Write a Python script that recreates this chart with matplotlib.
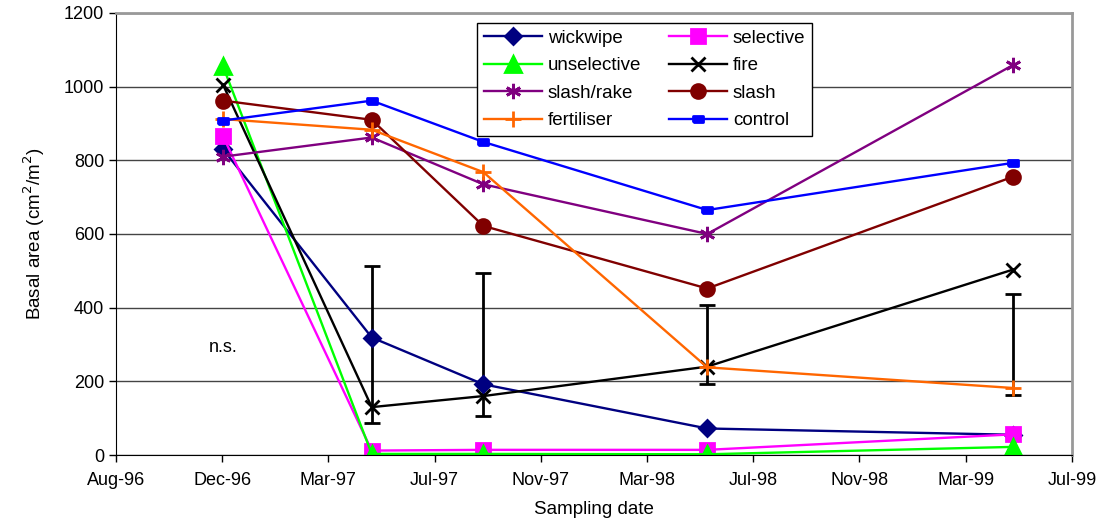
import matplotlib
matplotlib.use("Agg")
import matplotlib.pyplot as plt
import matplotlib.dates as mdates
import numpy as np
import pandas as pd

plt.rcParams["font.family"] = ["Liberation Sans", "DejaVu Sans"]

sample_dates = pd.to_datetime(["1996-12-02", "1997-05-19", "1997-09-22", "1998-06-02", "1999-05-13"])

series_names = ["wickwipe", "selective", "unselective", "fire",
                "slash/rake", "slash", "fertiliser", "control"]
wickwipe = [830, 319, 192, 72, 55]
selective = [865, 12, 14, 14, 56]
unselective = [1055, 3, 3, 2, 22]
fire = [1005, 130, 160, 240, 503]
slash_rake = [810, 862, 735, 600, 1058]
slash = [962, 910, 622, 452, 755]
fertiliser = [912, 883, 768, 238, 182]
control = [908, 962, 850, 665, 793]

# LSD-style bars drawn around a fixed level
err_dates = sample_dates[1:]
err_center = [300, 300, 300, 300]
err_half = [212, 195, 106, 137]

fig, ax = plt.subplots(figsize=(10.96, 5.19), dpi=100)
fig.subplots_adjust(left=0.1058, right=0.978, top=0.975, bottom=0.1233)

rect = [(-1, -0.55), (1, -0.55), (1, 0.55), (-1, 0.55), (-1, -0.55)]
styles = [
    (wickwipe, "#000080", "D", 8),
    (selective, "#FF00FF", "s", 10),
    (unselective, "#00FF00", "^", 11),
    (fire, "#000000", "x", 10),
    (slash_rake, "#800080", (6, 2, 0), 11),
    (slash, "#800000", "o", 10),
    (fertiliser, "#FF6600", "+", 11),
    (control, "#0000FF", rect, 7),
]

handles = []
for name, (vals, col, mk, ms) in zip(series_names, styles):
    h, = ax.plot(sample_dates, vals, color=col, lw=1.7, marker=mk, markersize=ms,
                 markerfacecolor=col, markeredgecolor=col, markeredgewidth=2, label=name)
    handles.append(h)

ax.errorbar(err_dates, err_center, yerr=err_half, fmt="none", ecolor="black",
            elinewidth=2, capsize=6, capthick=2, zorder=1.5)

ax.text(sample_dates[0], 292, "n.s.", ha="center", va="center", fontsize=13)

x_ticks = pd.date_range("1996-08-03", periods=10, freq="120D")
ax.set_xlim(x_ticks[0], x_ticks[-1])
ax.set_xticks(x_ticks)
ax.xaxis.set_major_formatter(mdates.DateFormatter("%b-%y"))
ax.set_ylim(0, 1200)
ax.set_yticks(np.arange(0, 1201, 200))

ax.grid(True, axis="y", color="#444444", lw=1)
ax.set_axisbelow(True)
ax.tick_params(axis="both", labelsize=13, direction="out", length=5, width=1)
ax.tick_params(axis="x", pad=7)
for s in ["top", "right"]:
    ax.spines[s].set_color("#999999")
    ax.spines[s].set_linewidth(2)

ax.set_xlabel("Sampling date", fontsize=13.5, labelpad=9)
ax.set_ylabel("Basal area (cm$^2$/m$^2$)", fontsize=13.5, labelpad=12)

order = [0, 2, 4, 6, 1, 3, 5, 7]
leg = ax.legend([handles[i] for i in order], [series_names[i] for i in order],
                ncol=2, loc="upper left", bbox_to_anchor=(0.378, 0.977),
                fontsize=13.5, frameon=True, fancybox=False, edgecolor="black",
                framealpha=1, handlelength=3.1, handletextpad=0.3, columnspacing=1.5,
                labelspacing=0.55, borderpad=0.35, borderaxespad=0)
leg.get_frame().set_linewidth(1)

plt.savefig("out.png", dpi=100)
